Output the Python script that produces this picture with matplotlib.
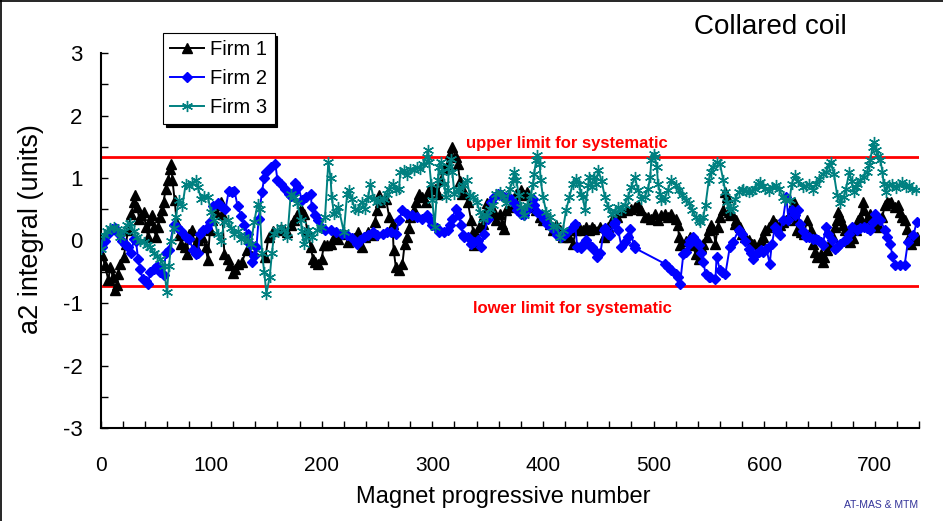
import matplotlib
matplotlib.use('Agg')
import matplotlib.pyplot as plt
from matplotlib.ticker import MultipleLocator
from matplotlib.lines import Line2D

plt.rcParams['font.family'] = ['Liberation Sans', 'DejaVu Sans']
plt.rcParams['axes.unicode_minus'] = False

# ---------------- data ----------------
series_names = ['Firm 1', 'Firm 2', 'Firm 3']

firm1_x = [1, 4, 7, 9, 11, 13, 15, 16, 18, 21, 23, 25, 28, 30, 31, 33, 35, 37, 39, 41, 43, 45, 47, 48, 50,
           52, 54, 56, 57, 59, 61, 63, 64, 65, 67, 69, 71, 73, 76, 78, 80, 83, 85, 88, 90, 92, 95, 97, 99,
           101, 104, 106, 109, 110, 112, 115, 117, 120, 122, 124, 128, 132, 149, 152, 156, 163, 166, 169,
           172, 175, 178, 181, 184, 187, 190, 192, 194, 197, 200, 202, 205, 208, 211, 215, 220, 224, 229,
           233, 236, 239, 242, 246, 248, 250, 252, 253, 258, 261, 264, 265, 267, 270, 273, 275, 277, 279,
           280, 283, 285, 288, 291, 294, 296, 299, 302, 305, 308, 311, 314, 316, 318, 321, 323, 325, 327,
           329, 332, 335, 337, 338, 340, 342, 346, 347, 349, 352, 355, 356, 358, 361, 363, 365, 367, 370,
           373, 374, 376, 380, 383, 386, 388, 391, 394, 397, 400, 403, 406, 409, 412, 415, 418, 421, 424,
           427, 430, 433, 436, 439, 442, 444, 446, 452, 455, 456, 459, 462, 467, 471, 476, 480, 483, 486,
           489, 492, 495, 498, 501, 504, 507, 510, 513, 516, 520, 522, 523, 524, 529, 532, 533, 535, 538,
           541, 543, 545, 548, 550, 552, 554, 556, 558, 560, 563, 565, 566, 568, 569, 571, 574, 575, 578,
           580, 583, 586, 589, 591, 594, 597, 599, 601, 604, 608, 611, 614, 617, 620, 623, 626, 627, 629,
           630, 633, 636, 639, 642, 644, 646, 648, 651, 653, 654, 657, 659, 662, 664, 666, 667, 669, 671,
           673, 675, 678, 680, 683, 685, 687, 689, 690, 693, 695, 696, 699, 701, 704, 707, 709, 711, 713,
           715, 718, 721, 723, 725, 727, 729, 731, 733, 736, 738]
firm1_y = [-0.23, -0.39, -0.63, -0.42, -0.58, -0.79, -0.71, -0.53, -0.37, -0.26, -0.05, 0.17, 0.43, 0.62,
           0.73, 0.54, 0.35, 0.41, 0.46, 0.22, 0.06, 0.33, 0.41, 0.22, 0.06, 0.22, 0.38, 0.49, 0.62, 0.83,
           0.97, 1.15, 1.23, 0.97, 0.65, 0.27, 0.09, -0.05, -0.10, -0.21, 0.11, 0.17, -0.07, 0.01, 0.11,
           0.06, -0.10, -0.31, 0.17, 0.33, 0.46, 0.57, 0.62, 0.43, -0.21, -0.29, -0.39, -0.52, -0.46, -0.37,
           -0.34, -0.15, -0.27, 0.06, 0.15, 0.19, 0.17, 0.14, 0.25, 0.33, 0.41, 0.51, 0.43, 0.17, -0.10,
           -0.29, -0.34, -0.37, -0.29, -0.07, -0.07, -0.05, 0.06, 0.03, 0.11, -0.02, 0.04, 0.14, -0.10,
           0.06, 0.14, 0.09, 0.30, 0.49, 0.73, 0.62, 0.67, 0.38, 0.27, -0.15, -0.42, -0.47, -0.37, -0.05,
           0.06, 0.20, 0.38, 0.49, 0.62, 0.75, 0.70, 0.62, 0.78, 0.86, 0.83, 0.75, 0.97, 1.15, 1.23, 1.39,
           1.50, 1.34, 1.23, 0.95, 0.75, 0.78, 0.62, 0.33, 0.14, -0.07, 0.06, 0.22, 0.27, 0.41, 0.60, 0.57,
           0.49, 0.43, 0.33, 0.43, 0.27, 0.19, 0.49, 0.54, 0.62, 0.67, 0.75, 0.81, 0.73, 0.78, 0.62, 0.54,
           0.49, 0.38, 0.33, 0.35, 0.27, 0.17, 0.25, 0.17, 0.06, 0.11, 0.06, -0.05, 0.17, 0.22, 0.17, 0.22,
           0.17, 0.22, 0.19, 0.22, 0.06, 0.09, 0.22, 0.33, 0.38, 0.46, 0.49, 0.51, 0.54, 0.57, 0.49, 0.38,
           0.38, 0.35, 0.43, 0.33, 0.41, 0.43, 0.38, 0.43, 0.35, 0.25, 0.06, -0.07, 0.00, 0.01, 0.06, -0.07,
           -0.21, -0.29, -0.10, -0.05, 0.06, 0.17, 0.25, 0.19, -0.05, 0.22, 0.38, 0.49, 0.78, 0.70, 0.46,
           0.41, 0.43, 0.27, 0.33, 0.22, 0.11, 0.06, 0.01, -0.05, -0.05, -0.15, 0.01, 0.06, 0.17, 0.22,
           0.33, 0.27, 0.25, 0.30, 0.33, 0.43, 0.57, 0.62, 0.33, 0.17, 0.14, 0.11, 0.33, 0.17, -0.05, -0.18,
           -0.26, -0.21, -0.34, -0.26, -0.15, -0.05, 0.06, 0.22, 0.33, 0.46, 0.38, 0.25, 0.17, 0.01, -0.02,
           0.04, 0.17, 0.33, 0.38, 0.62, 0.49, 0.35, 0.33, 0.43, 0.27, 0.27, 0.22, 0.38, 0.57, 0.62, 0.60,
           0.62, 0.54, 0.57, 0.46, 0.38, 0.33, 0.19, 0.06, -0.05, 0.01, 0.05]

firm2_x = [1, 4, 7, 10, 13, 16, 19, 22, 25, 28, 30, 32, 34, 36, 38, 41, 43, 45, 48, 51, 54, 57, 59, 62, 66,
           69, 73, 77, 80, 84, 86, 88, 90, 93, 96, 99, 102, 106, 109, 113, 116, 119, 121, 124, 127, 130,
           133, 135, 137, 139, 141, 143, 146, 148, 150, 154, 158, 160, 163, 167, 170, 172, 175, 176, 179,
           182, 186, 190, 191, 194, 197, 200, 203, 208, 213, 218, 223, 227, 232, 235, 238, 242, 246, 250,
           255, 259, 263, 267, 270, 273, 277, 282, 286, 291, 295, 297, 300, 304, 306, 311, 314, 316, 318,
           321, 324, 326, 328, 329, 332, 335, 338, 341, 344, 347, 350, 353, 356, 359, 362, 365, 368, 371,
           374, 377, 380, 383, 386, 391, 392, 395, 398, 401, 404, 407, 410, 413, 416, 419, 422, 427, 429,
           431, 434, 436, 439, 442, 444, 446, 449, 452, 455, 456, 459, 461, 464, 465, 468, 471, 474, 477,
           479, 482, 483, 510, 513, 516, 520, 522, 524, 527, 529, 532, 533, 536, 538, 541, 543, 545, 547,
           550, 551, 556, 557, 560, 562, 565, 569, 572, 577, 580, 583, 586, 588, 590, 593, 595, 597, 599,
           602, 605, 607, 610, 612, 614, 617, 620, 622, 625, 628, 631, 632, 635, 638, 641, 644, 647, 649,
           651, 653, 656, 658, 661, 664, 666, 669, 672, 675, 677, 679, 684, 687, 690, 693, 696, 698, 700,
           705, 709, 711, 714, 716, 718, 723, 727, 730, 735, 738]
firm2_y = [-0.10, 0.00, 0.10, 0.18, 0.20, 0.12, 0.00, -0.05, -0.10, -0.20, 0.02, 0.00, -0.30, -0.45, -0.62,
           -0.65, -0.70, -0.50, -0.45, -0.40, -0.50, -0.55, -0.20, -0.15, 0.25, 0.22, 0.15, 0.05, 0.02,
           -0.15, -0.22, -0.20, 0.10, 0.17, 0.20, 0.30, 0.55, 0.60, 0.55, 0.50, 0.80, 0.78, 0.80, 0.55,
           0.40, 0.25, 0.10, -0.05, -0.35, -0.25, -0.10, 0.35, 0.78, 1.00, 1.10, 1.18, 1.23, 0.97, 0.90,
           0.83, 0.75, 0.72, 0.78, 0.92, 0.85, 0.65, 0.70, 0.75, 0.54, 0.41, 0.33, 0.20, 0.17, 0.17, 0.14,
           0.11, 0.09, 0.04, -0.05, 0.01, 0.06, 0.09, 0.14, 0.09, 0.11, 0.14, 0.14, 0.11, 0.33, 0.49, 0.43,
           0.41, 0.38, 0.35, 0.41, 0.35, 0.25, 0.20, 0.14, 0.14, 0.17, 0.25, 0.35, 0.51, 0.41, 0.25, 0.09,
           0.06, 0.06, -0.05, -0.02, 0.01, -0.10, 0.10, 0.35, 0.62, 0.70, 0.75, 0.73, 0.70, 0.70, 0.67,
           0.60, 0.49, 0.43, 0.41, 0.49, 0.67, 0.57, 0.46, 0.41, 0.35, 0.27, 0.22, 0.17, 0.09, 0.06, 0.09,
           0.14, 0.22, 0.27, -0.10, -0.12, -0.05, 0.01, -0.07, -0.10, -0.15, -0.26, -0.20, 0.17, 0.20, 0.11,
           0.09, 0.27, 0.30, 0.17, -0.10, -0.02, 0.06, 0.19, -0.07, -0.12, -0.37, -0.42, -0.47, -0.53,
           -0.58, -0.69, -0.21, -0.18, -0.05, 0.01, 0.06, 0.00, -0.07, -0.20, -0.34, -0.53, -0.58, -0.58,
           -0.61, -0.26, -0.47, -0.50, -0.53, -0.10, -0.02, 0.17, 0.11, 0.00, -0.13, -0.20, -0.29, -0.22,
           -0.18, -0.15, -0.18, -0.13, -0.37, -0.05, 0.22, 0.15, 0.09, 0.33, 0.70, 0.33, 0.49, 0.41, 0.49,
           0.27, 0.15, 0.06, 0.05, 0.03, 0.02, 0.01, -0.03, -0.07, 0.22, 0.10, 0.01, -0.13, -0.10, -0.05,
           0.00, 0.03, 0.10, 0.22, 0.17, 0.20, 0.22, 0.20, 0.17, 0.30, 0.43, 0.33, 0.17, 0.05, -0.05, -0.25,
           -0.39, -0.39, -0.39, -0.02, 0.09, 0.30]

firm3_x = [0, 3, 6, 9, 12, 15, 18, 21, 24, 27, 30, 33, 36, 39, 42, 45, 48, 51, 54, 57, 60, 62, 64, 66, 68,
           71, 74, 77, 80, 83, 86, 88, 91, 94, 97, 100, 103, 106, 109, 112, 115, 118, 121, 124, 127, 130,
           133, 136, 139, 142, 144, 146, 148, 150, 153, 155, 157, 160, 163, 166, 169, 172, 175, 178, 181,
           182, 184, 186, 188, 191, 196, 199, 203, 206, 208, 209, 211, 213, 215, 220, 223, 225, 227, 230,
           233, 236, 239, 242, 244, 247, 250, 253, 256, 259, 261, 264, 267, 270, 271, 274, 277, 280, 283,
           286, 289, 292, 295, 296, 297, 299, 300, 302, 305, 306, 308, 309, 311, 312, 314, 315, 317, 318,
           320, 323, 324, 328, 331, 334, 337, 340, 343, 346, 349, 352, 355, 358, 361, 364, 367, 370, 373,
           374, 376, 378, 380, 383, 386, 389, 391, 392, 394, 395, 397, 398, 400, 403, 406, 409, 412, 415,
           418, 421, 424, 427, 430, 433, 434, 436, 438, 441, 442, 444, 446, 448, 450, 453, 456, 459, 462,
           465, 468, 471, 474, 477, 480, 483, 486, 489, 492, 495, 497, 498, 500, 501, 503, 504, 506, 507,
           510, 513, 516, 520, 523, 526, 529, 532, 535, 538, 541, 542, 545, 547, 550, 552, 554, 557, 560,
           563, 565, 566, 569, 572, 574, 577, 580, 581, 584, 586, 589, 592, 594, 596, 599, 601, 604, 607,
           611, 613, 617, 619, 623, 625, 628, 631, 635, 638, 641, 644, 647, 650, 653, 656, 659, 660, 663,
           666, 669, 672, 674, 677, 679, 681, 683, 684, 687, 690, 693, 695, 696, 698, 699, 701, 703, 705,
           707, 708, 710, 713, 716, 719, 722, 725, 728, 731, 734, 737]
firm3_y = [-0.13, 0.09, 0.15, 0.20, 0.22, 0.18, 0.05, 0.15, 0.25, 0.28, 0.15, 0.05, 0.00, -0.02, -0.07,
           -0.10, -0.20, -0.25, -0.30, -0.40, -0.82, -0.40, 0.00, 0.20, 0.38, 0.65, 0.55, 0.90, 0.88, 0.92,
           0.97, 0.85, 0.67, 0.72, 0.70, 0.45, 0.33, 0.10, 0.00, 0.30, 0.33, 0.20, 0.10, 0.15, 0.03, 0.06,
           0.00, -0.05, 0.30, 0.59, 0.50, -0.20, -0.50, -0.85, -0.58, -0.20, 0.11, 0.17, 0.22, 0.17, 0.06,
           0.75, 0.70, 0.60, 0.33, 0.15, -0.05, 0.06, 0.17, 0.06, 0.17, 0.22, 0.38, 1.26, 1.00, 0.70, 0.43,
           0.46, 0.54, 0.14, 0.75, 0.81, 0.67, 0.51, 0.49, 0.62, 0.51, 0.70, 0.91, 0.67, 0.62, 0.65, 0.67,
           0.75, 0.83, 0.91, 0.81, 0.83, 1.10, 1.13, 1.05, 1.15, 1.13, 1.18, 1.15, 1.23, 1.34, 1.45, 1.26,
           0.91, 0.65, 0.22, 0.97, 1.18, 1.26, 1.10, 0.91, 0.70, 0.81, 1.18, 1.31, 1.10, 0.75, 0.83, 0.81,
           0.89, 0.97, 0.73, 0.70, 0.62, 0.46, 0.35, 0.41, 0.51, 0.57, 0.75, 0.78, 0.70, 0.60, 0.83, 0.97,
           1.10, 0.97, 0.73, 0.54, 0.41, 0.57, 0.73, 0.91, 1.07, 1.29, 1.37, 1.23, 0.97, 0.70, 0.46, 0.38,
           0.22, 0.25, 0.06, 0.17, 0.49, 0.70, 0.91, 0.99, 0.91, 0.75, 0.70, 0.49, 0.89, 1.02, 0.86, 1.02,
           0.90, 1.13, 0.95, 0.70, 0.54, 0.43, 0.46, 0.54, 0.49, 0.57, 0.70, 0.86, 1.02, 0.81, 0.67, 0.70,
           0.83, 1.02, 1.29, 1.39, 1.34, 1.18, 0.91, 0.75, 0.65, 0.67, 0.81, 0.97, 0.89, 0.81, 0.73, 0.65,
           0.60, 0.49, 0.38, 0.33, 0.30, 0.38, 0.57, 0.97, 1.10, 1.18, 1.26, 1.23, 0.97, 0.78, 0.62, 0.49,
           0.52, 0.67, 0.78, 0.81, 0.83, 0.80, 0.78, 0.80, 0.83, 0.90, 0.94, 0.88, 0.83, 0.80, 0.86, 0.89,
           0.83, 0.70, 0.65, 0.65, 0.91, 1.05, 0.95, 0.86, 0.88, 0.91, 0.81, 0.90, 0.99, 1.07, 1.10, 1.21,
           1.26, 1.07, 0.73, 0.60, 0.70, 0.83, 1.10, 0.95, 0.78, 0.85, 0.91, 0.97, 1.02, 1.10, 1.21, 1.29,
           1.50, 1.58, 1.45, 1.35, 1.29, 1.10, 0.91, 0.78, 0.89, 0.91, 0.84, 0.89, 0.94, 0.86, 0.89, 0.83,
           0.81]

upper_limit = 1.33
lower_limit = -0.72
upper_text = 'upper limit for systematic'
lower_text = 'lower limit for systematic'
title_text = 'Collared coil'
x_label = 'Magnet progressive number'
y_label = 'a2 integral (units)'
credit_text = 'AT-MAS & MTM'

# ---------------- figure ----------------
W, H = 943, 521
fig = plt.figure(figsize=(W / 100, H / 100), dpi=100)
fig.patch.set_facecolor('white')
ax = fig.add_axes([100.5 / W, 1 - 428 / H, (919 - 100.5) / W, (428 - 53) / H])

ax.axhline(upper_limit, color='#FF0000', lw=2, zorder=1)
ax.axhline(lower_limit, color='#FF0000', lw=2, zorder=1)

l1, = ax.plot(firm1_x, firm1_y, color='black', lw=1.4, marker='^', ms=7,
              mfc='black', mec='black', zorder=3, label=series_names[0])
l2, = ax.plot(firm2_x, firm2_y, color='#0000FF', lw=1.4, marker='D', ms=5,
              mfc='#0000FF', mec='#0000FF', zorder=4, label=series_names[1])
l3, = ax.plot(firm3_x, firm3_y, color='#008080', lw=1.4, marker=(6, 2, 0), ms=8,
              mec='#008080', mew=1.0, zorder=5, label=series_names[2])

ax.set_xlim(0, 740)
ax.set_ylim(-3, 3)
ax.xaxis.set_major_locator(MultipleLocator(100))
ax.xaxis.set_minor_locator(MultipleLocator(20))
ax.yaxis.set_major_locator(MultipleLocator(1))
ax.yaxis.set_minor_locator(MultipleLocator(0.5))
ax.tick_params(axis='both', which='both', direction='in', length=5, width=1, color='black')
ax.tick_params(axis='x', which='major', labelsize=15, pad=20)
ax.tick_params(axis='y', which='major', labelsize=16, pad=13)
for s in ['top', 'right']:
    ax.spines[s].set_visible(False)
for s in ['left', 'bottom']:
    ax.spines[s].set_linewidth(1.5)

ax.text(422, 1.48, upper_text, color='#FF0000', fontsize=12, fontweight='bold',
        ha='center', va='baseline', zorder=6)
ax.text(427, -1.16, lower_text, color='#FF0000', fontsize=12, fontweight='bold',
        ha='center', va='baseline', zorder=6)

fig.text(770 / W, 1 - 34 / H, title_text, fontsize=20, ha='center', va='baseline')
fig.text(503 / W, 1 - 497 / H, x_label, fontsize=17, ha='center', va='center')
fig.text(31 / W, 1 - 229 / H, y_label, fontsize=19.5, ha='center', va='center', rotation=90)
fig.text(918 / W, 1 - 505 / H, credit_text, fontsize=7.5, ha='right', va='center', color='#333399')

leg = ax.legend(handles=[l1, l2, l3], loc='upper left',
                bbox_to_anchor=(163 / W, 1 - 33 / H), bbox_transform=fig.transFigure,
                fontsize=14.5, frameon=True, fancybox=False, edgecolor='black',
                shadow={'color': 'black', 'alpha': 1.0}, numpoints=1,
                handlelength=1.7, handletextpad=0.3, labelspacing=0.5,
                borderpad=0.35, borderaxespad=0)
leg.get_frame().set_linewidth(0.8)

fig.add_artist(Line2D([0.5 / W, 0.5 / W], [0, 1], color='black', lw=1.2, transform=fig.transFigure))
fig.add_artist(Line2D([0, 1], [1 - 0.5 / H, 1 - 0.5 / H], color='black', lw=1.2, transform=fig.transFigure))

fig.savefig('out.png', dpi=100, facecolor='white')
